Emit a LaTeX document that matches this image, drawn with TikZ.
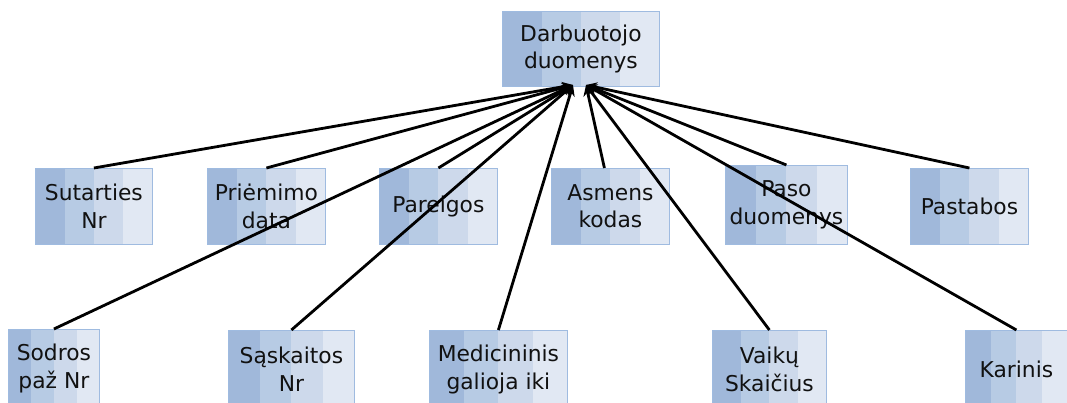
\documentclass[tikz,border=0pt]{standalone}
\usepackage{fontspec}
\setmainfont{DejaVu Sans}
\usetikzlibrary{calc,arrows.meta}
\definecolor{bandA}{HTML}{A0B8DA}
\definecolor{bandB}{HTML}{B7CBE4}
\definecolor{bandC}{HTML}{CDD9EB}
\definecolor{bandD}{HTML}{E1E8F3}
\definecolor{boxline}{HTML}{9FBBE0}
\definecolor{ink}{HTML}{111111}
\tikzset{
  x=1pt, y=-1pt,
  stripebox/.style={
    draw=boxline, line width=0.8pt, anchor=north west,
    minimum width=#1, minimum height=76pt, inner sep=2pt,
    align=center, text=ink, font=\fontsize{21.8}{27.5}\selectfont,
    path picture={
      \coordinate (sw) at (path picture bounding box.south west);
      \coordinate (ne) at (path picture bounding box.north east);
      \foreach \i/\c in {0/bandA,1/bandB,2/bandC,3/bandD}{
        \fill[\c] ($(sw)!{\i/4}!(sw-|ne)$) rectangle ($(sw|-ne)!{(\i+1)/4}!(ne)$);
      }
    }
  },
  link/.style={line width=2.8pt, -{Stealth[length=11pt,width=10pt]}}
}
\begin{document}
\begin{tikzpicture}
\useasboundingbox (0,0) rectangle (1067,403);
\clip (0,0) rectangle (1067,403);

% top record
\node[stripebox=157pt, minimum height=75pt] (top) at (502,11) {Darbuotojo\\duomenys};

% middle row
\node[stripebox=117pt] (sut) at (35,168) {Sutarties\\Nr};
\node[stripebox=118pt] (pri) at (207,168) {Priėmimo\\data};
\node[stripebox=118pt] (par) at (379,168) {Pareigos};
\node[stripebox=118pt] (asm) at (551,168) {Asmens\\kodas};
\node[stripebox=122pt, minimum height=79pt] (pas) at (725,165) {Paso\\duomenys};
\node[stripebox=118pt] (pst) at (910,168) {Pastabos};

% bottom row
\node[stripebox=91pt, minimum height=78pt] (sod) at (8,329) {Sodros\\paž Nr};
\node[stripebox=126pt, minimum height=78pt] (sas) at (228,330) {Sąskaitos\\Nr};
\node[stripebox=138pt, minimum height=78pt] (med) at (429,330) {Medicininis\\galioja iki};
\node[stripebox=114pt, minimum height=78pt] (vai) at (712,330) {Vaikų\\Skaičius};
\node[stripebox=102pt, minimum height=78pt] (kar) at (965,330) {Karinis};

% arrow targets under the top record
\coordinate (tipL) at (573,85);
\coordinate (tipR) at (586,85);

% connectors
\draw[link] (sut.north) -- (tipL);
\draw[link] (pri.north) -- (tipL);
\draw[link] (par.north) -- (tipL);
\draw[link] (sod.north) -- (tipL);
\draw[link] (sas.north) -- (tipL);
\draw[link] (med.north) -- (tipL);
\draw[link] ([xshift=-6pt]asm.north) -- (tipR);
\draw[link] (pas.north) -- (tipR);
\draw[link] (pst.north) -- (tipR);
\draw[link] (vai.north) -- (tipR);
\draw[link] (kar.north) -- (tipR);
\end{tikzpicture}
\end{document}
